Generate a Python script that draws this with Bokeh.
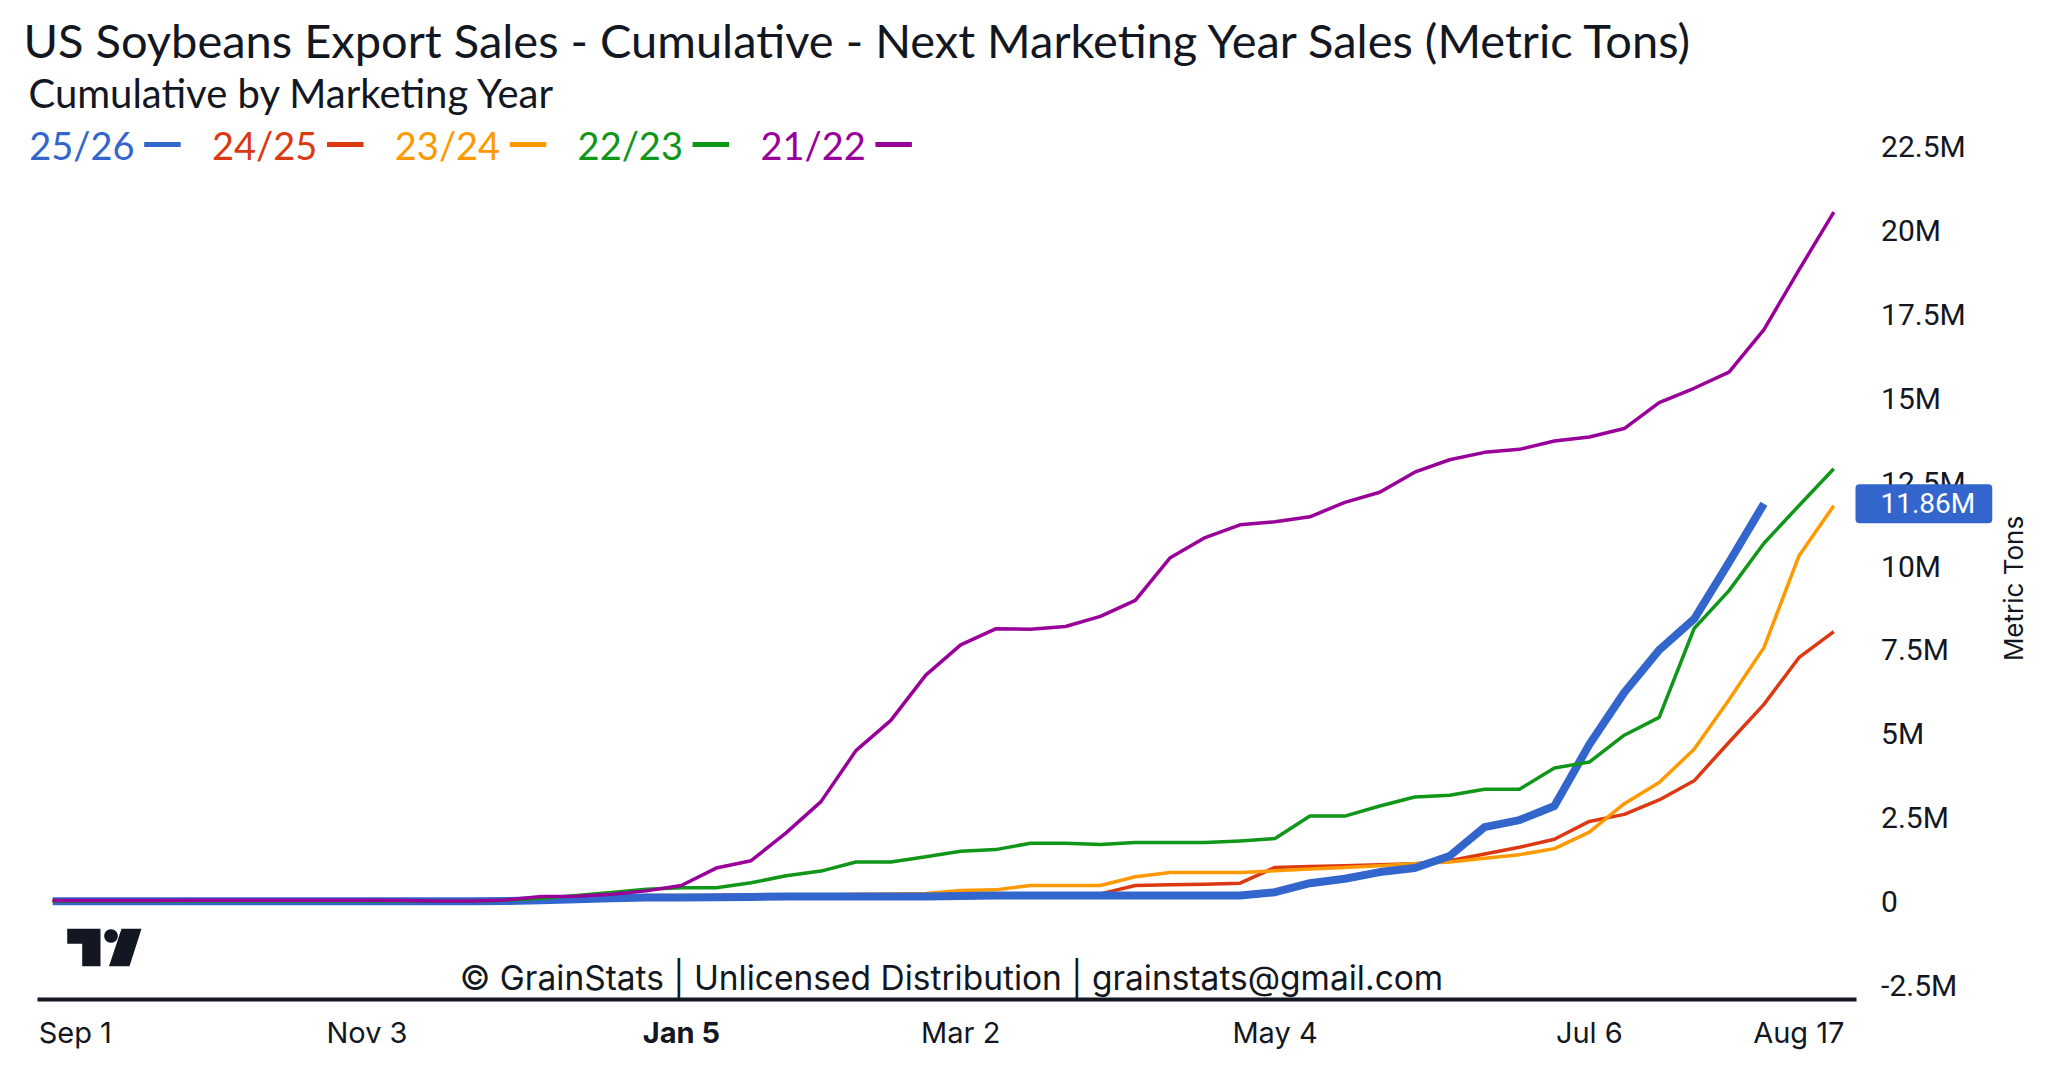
import datetime as dt
import math
from bokeh.plotting import figure
from bokeh.models import Range1d, Label, PolyAnnotation
from bokeh.embed import file_html
from bokeh.resources import INLINE

# ---------------- data (million metric tons, weekly from Sep 1) ----------------
start_date = dt.datetime(2024, 9, 1)
n_weeks = 52
week_dates = [start_date + dt.timedelta(days=7 * i) for i in range(n_weeks)]

series_names = ["25/26", "24/25", "23/24", "22/23", "21/22"]
series_colors = ["#3366CC", "#DC3912", "#FF9900", "#109618", "#990099"]

s2526 = [0.01, 0.01, 0.01, 0.01, 0.01, 0.01, 0.01, 0.01, 0.01, 0.01, 0.01, 0.01, 0.01,
         0.02, 0.04, 0.07, 0.10, 0.12, 0.12, 0.13, 0.14, 0.15, 0.15,
         0.15, 0.15, 0.15, 0.17, 0.18, 0.18, 0.18, 0.18, 0.18, 0.18,
         0.18, 0.18, 0.28, 0.55, 0.68, 0.88, 1.00, 1.36, 2.22, 2.43,
         2.85, 4.68, 6.23, 7.50, 8.42, 10.11, 11.86]
s2425 = [0.02, 0.02, 0.02, 0.02, 0.02, 0.02, 0.02, 0.02, 0.02, 0.02, 0.02, 0.02, 0.02,
         0.03, 0.06, 0.10, 0.14, 0.16, 0.17, 0.18, 0.20, 0.20, 0.20,
         0.20, 0.20, 0.20, 0.21, 0.22, 0.23, 0.23, 0.23, 0.48, 0.50,
         0.52, 0.55, 1.02, 1.05, 1.07, 1.10, 1.13, 1.22, 1.42, 1.62,
         1.86, 2.39, 2.60, 3.03, 3.60, 4.75, 5.88, 7.27, 8.05]
s2324 = [0.02, 0.02, 0.02, 0.02, 0.02, 0.02, 0.02, 0.02, 0.02, 0.02, 0.02, 0.02, 0.02,
         0.04, 0.08, 0.12, 0.16, 0.18, 0.18, 0.18, 0.18, 0.19, 0.20,
         0.22, 0.23, 0.24, 0.33, 0.35, 0.48, 0.48, 0.48, 0.74, 0.87,
         0.87, 0.87, 0.92, 0.97, 1.02, 1.07, 1.13, 1.18, 1.29, 1.40,
         1.58, 2.07, 2.92, 3.55, 4.54, 6.02, 7.57, 10.30, 11.80]
s2223 = [0.02, 0.02, 0.02, 0.02, 0.02, 0.02, 0.02, 0.02, 0.02, 0.02, 0.02, 0.02, 0.02,
         0.04, 0.10, 0.18, 0.27, 0.37, 0.41, 0.41, 0.56, 0.77, 0.91,
         1.18, 1.18, 1.34, 1.50, 1.55, 1.74, 1.74, 1.70, 1.76, 1.76,
         1.76, 1.81, 1.88, 2.55, 2.55, 2.85, 3.12, 3.17, 3.35, 3.35,
         3.98, 4.16, 4.96, 5.49, 8.14, 9.27, 10.68, 11.80, 12.90]
s2122 = [0.03, 0.03, 0.03, 0.03, 0.04, 0.04, 0.04, 0.04, 0.04, 0.04, 0.03, 0.02, 0.02,
         0.05, 0.15, 0.16, 0.22, 0.32, 0.48, 1.00, 1.22, 2.05, 2.98,
         4.50, 5.40, 6.75, 7.65, 8.13, 8.12, 8.20, 8.50, 8.98, 10.25,
         10.85, 11.23, 11.32, 11.47, 11.90, 12.20, 12.80, 13.17, 13.39, 13.48,
         13.73, 13.85, 14.10, 14.87, 15.30, 15.78, 17.05, 18.82, 20.55]

x_tick_labels = ["Sep 1", "Nov 3", "Jan 5", "Mar 2", "May 4", "Jul 6", "Aug 17"]
x_tick_dates = [dt.datetime(2024, 9, 1), dt.datetime(2024, 11, 3), dt.datetime(2025, 1, 5),
                dt.datetime(2025, 3, 2), dt.datetime(2025, 5, 4), dt.datetime(2025, 7, 6),
                dt.datetime(2025, 8, 17)]
y_ticks = [-2.5, 0, 2.5, 5, 7.5, 10, 12.5, 15, 17.5, 20, 22.5]

title_text = "US Soybeans Export Sales - Cumulative - Next Marketing Year Sales (Metric Tons)"
subtitle_text = "Cumulative by Marketing Year"
watermark_text = "\u00a9 GrainStats | Unlicensed Distribution | grainstats@gmail.com"
y_axis_title = "Metric Tons"

# ---------------- layout ----------------
EPOCH = dt.datetime(1970, 1, 1)


def ms(d):
    return (d - EPOCH).total_seconds() * 1000.0


W, H = 2032, 1074
TXT = "#131722"


def sx(X):
    return X


def sy(Y):
    return H - Y


def ylab(v):
    return "0" if v == 0 else f"{v:g}M"


p = figure(width=W, height=H, x_axis_type="datetime",
           x_axis_location=None, y_axis_location=None,
           output_backend="svg", toolbar_location=None,
           min_border_left=0, min_border_right=0, min_border_top=0, min_border_bottom=0,
           x_range=Range1d(start_date - dt.timedelta(days=10.46), start_date + dt.timedelta(days=396.83)),
           y_range=Range1d(-5.153, 26.858))
p.outline_line_color = None
p.xgrid.visible = False
p.ygrid.visible = False
p.background_fill_color = "white"
p.border_fill_color = "white"

# series lines
data_by_name = {"25/26": s2526, "24/25": s2425, "23/24": s2324, "22/23": s2223, "21/22": s2122}
draw_order = ["24/25", "23/24", "25/26", "22/23", "21/22"]
for name in draw_order:
    vals = data_by_name[name]
    col = series_colors[series_names.index(name)]
    p.line(week_dates[:len(vals)], vals, line_color=col,
           line_width=8 if name == "25/26" else 3.5, line_join="round")

# time axis line
p.add_layout(PolyAnnotation(xs=[37, 1856, 1856, 37], ys=[sy(997), sy(997), sy(1001), sy(1001)],
                            xs_units="screen", ys_units="screen",
                            fill_color=TXT, fill_alpha=1.0, line_color=None))

# y tick labels (right price scale)
for v in y_ticks:
    p.add_layout(Label(x=sx(1880.6), y=v, x_units="screen", y_units="data", text=ylab(v),
                       text_font="Roboto", text_font_size="30px", text_color=TXT,
                       text_baseline="middle", text_align="left"))

# x tick labels
for lab, d in zip(x_tick_labels, x_tick_dates):
    first = lab == x_tick_labels[0]
    p.add_layout(Label(x=ms(d), y=sy(1032), x_units="data", y_units="screen", text=lab,
                       x_offset=-14 if first else 0,
                       text_font="Inter", text_font_size="29px", text_color=TXT,
                       text_font_style="bold" if lab == "Jan 5" else "normal",
                       text_baseline="middle", text_align="left" if first else "center"))

# title & subtitle
p.add_layout(Label(x=sx(23), y=sy(39), x_units="screen", y_units="screen", text=title_text,
                   text_font="Lato", text_font_size="47px", text_color=TXT,
                   text_baseline="middle", text_align="left"))
p.add_layout(Label(x=sx(28), y=sy(92), x_units="screen", y_units="screen", text=subtitle_text,
                   text_font="Lato", text_font_size="40px", text_color=TXT,
                   text_baseline="middle", text_align="left"))

# legend
for i, (name, col) in enumerate(zip(series_names, series_colors)):
    x0 = 28.7 + 182.8 * i
    p.add_layout(Label(x=sx(x0), y=sy(144), x_units="screen", y_units="screen", text=name,
                       text_font="Lato", text_font_size="38px", text_color=col,
                       text_baseline="middle", text_align="left"))
    d0, d1 = x0 + 115, x0 + 151.5
    p.add_layout(PolyAnnotation(xs=[sx(d0), sx(d1), sx(d1), sx(d0)],
                                ys=[sy(141.5), sy(141.5), sy(146.5), sy(146.5)],
                                xs_units="screen", ys_units="screen",
                                fill_color=col, fill_alpha=1.0, line_color=None))

# right axis title
p.add_layout(Label(x=sx(2013), y=sy(588), x_units="screen", y_units="screen",
                   text=y_axis_title, angle=math.pi / 2, text_font="Inter", text_font_size="26px",
                   text_color=TXT, text_baseline="middle", text_align="center"))

# last value tag
p.add_layout(Label(x=sx(1855), y=s2526[-1], x_units="screen", y_units="data",
                   text=f"{s2526[-1]:.2f}M", text_font="Roboto", text_font_size="28px",
                   text_color="white", text_baseline="middle", text_align="left",
                   background_fill_color="#3366CC", background_fill_alpha=1.0,
                   padding=dict(left=25, right=17, top=3, bottom=3), border_radius=4))

# watermark
p.add_layout(Label(x=sx(951), y=sy(977), x_units="screen", y_units="screen", text=watermark_text,
                   text_font="Inter", text_font_size="33.5px", text_color=TXT,
                   text_baseline="middle", text_align="center"))

# TradingView-style logo
LOGO = "#131722"
tx = [66.7, 100, 100, 81.7, 81.7, 66.7]
ty = [928.3, 928.3, 965.7, 965.7, 943.3, 943.3]
p.add_layout(PolyAnnotation(xs=[sx(v) for v in tx], ys=[sy(v) for v in ty],
                            xs_units="screen", ys_units="screen",
                            fill_color=LOGO, fill_alpha=1.0, line_color=None))
cx, cy, r = 110.5, 935.5, 6.8
angs = [2 * math.pi * k / 24 for k in range(24)]
p.add_layout(PolyAnnotation(xs=[sx(cx + r * math.cos(a)) for a in angs],
                            ys=[sy(cy + r * math.sin(a)) for a in angs],
                            xs_units="screen", ys_units="screen",
                            fill_color=LOGO, fill_alpha=1.0, line_color=None))
slx = [121, 141, 129, 108.5]
sly = [928.3, 928.3, 965.7, 965.7]
p.add_layout(PolyAnnotation(xs=[sx(v) for v in slx], ys=[sy(v) for v in sly],
                            xs_units="screen", ys_units="screen",
                            fill_color=LOGO, fill_alpha=1.0, line_color=None))

open("out.html", "w").write(file_html(p, INLINE))
